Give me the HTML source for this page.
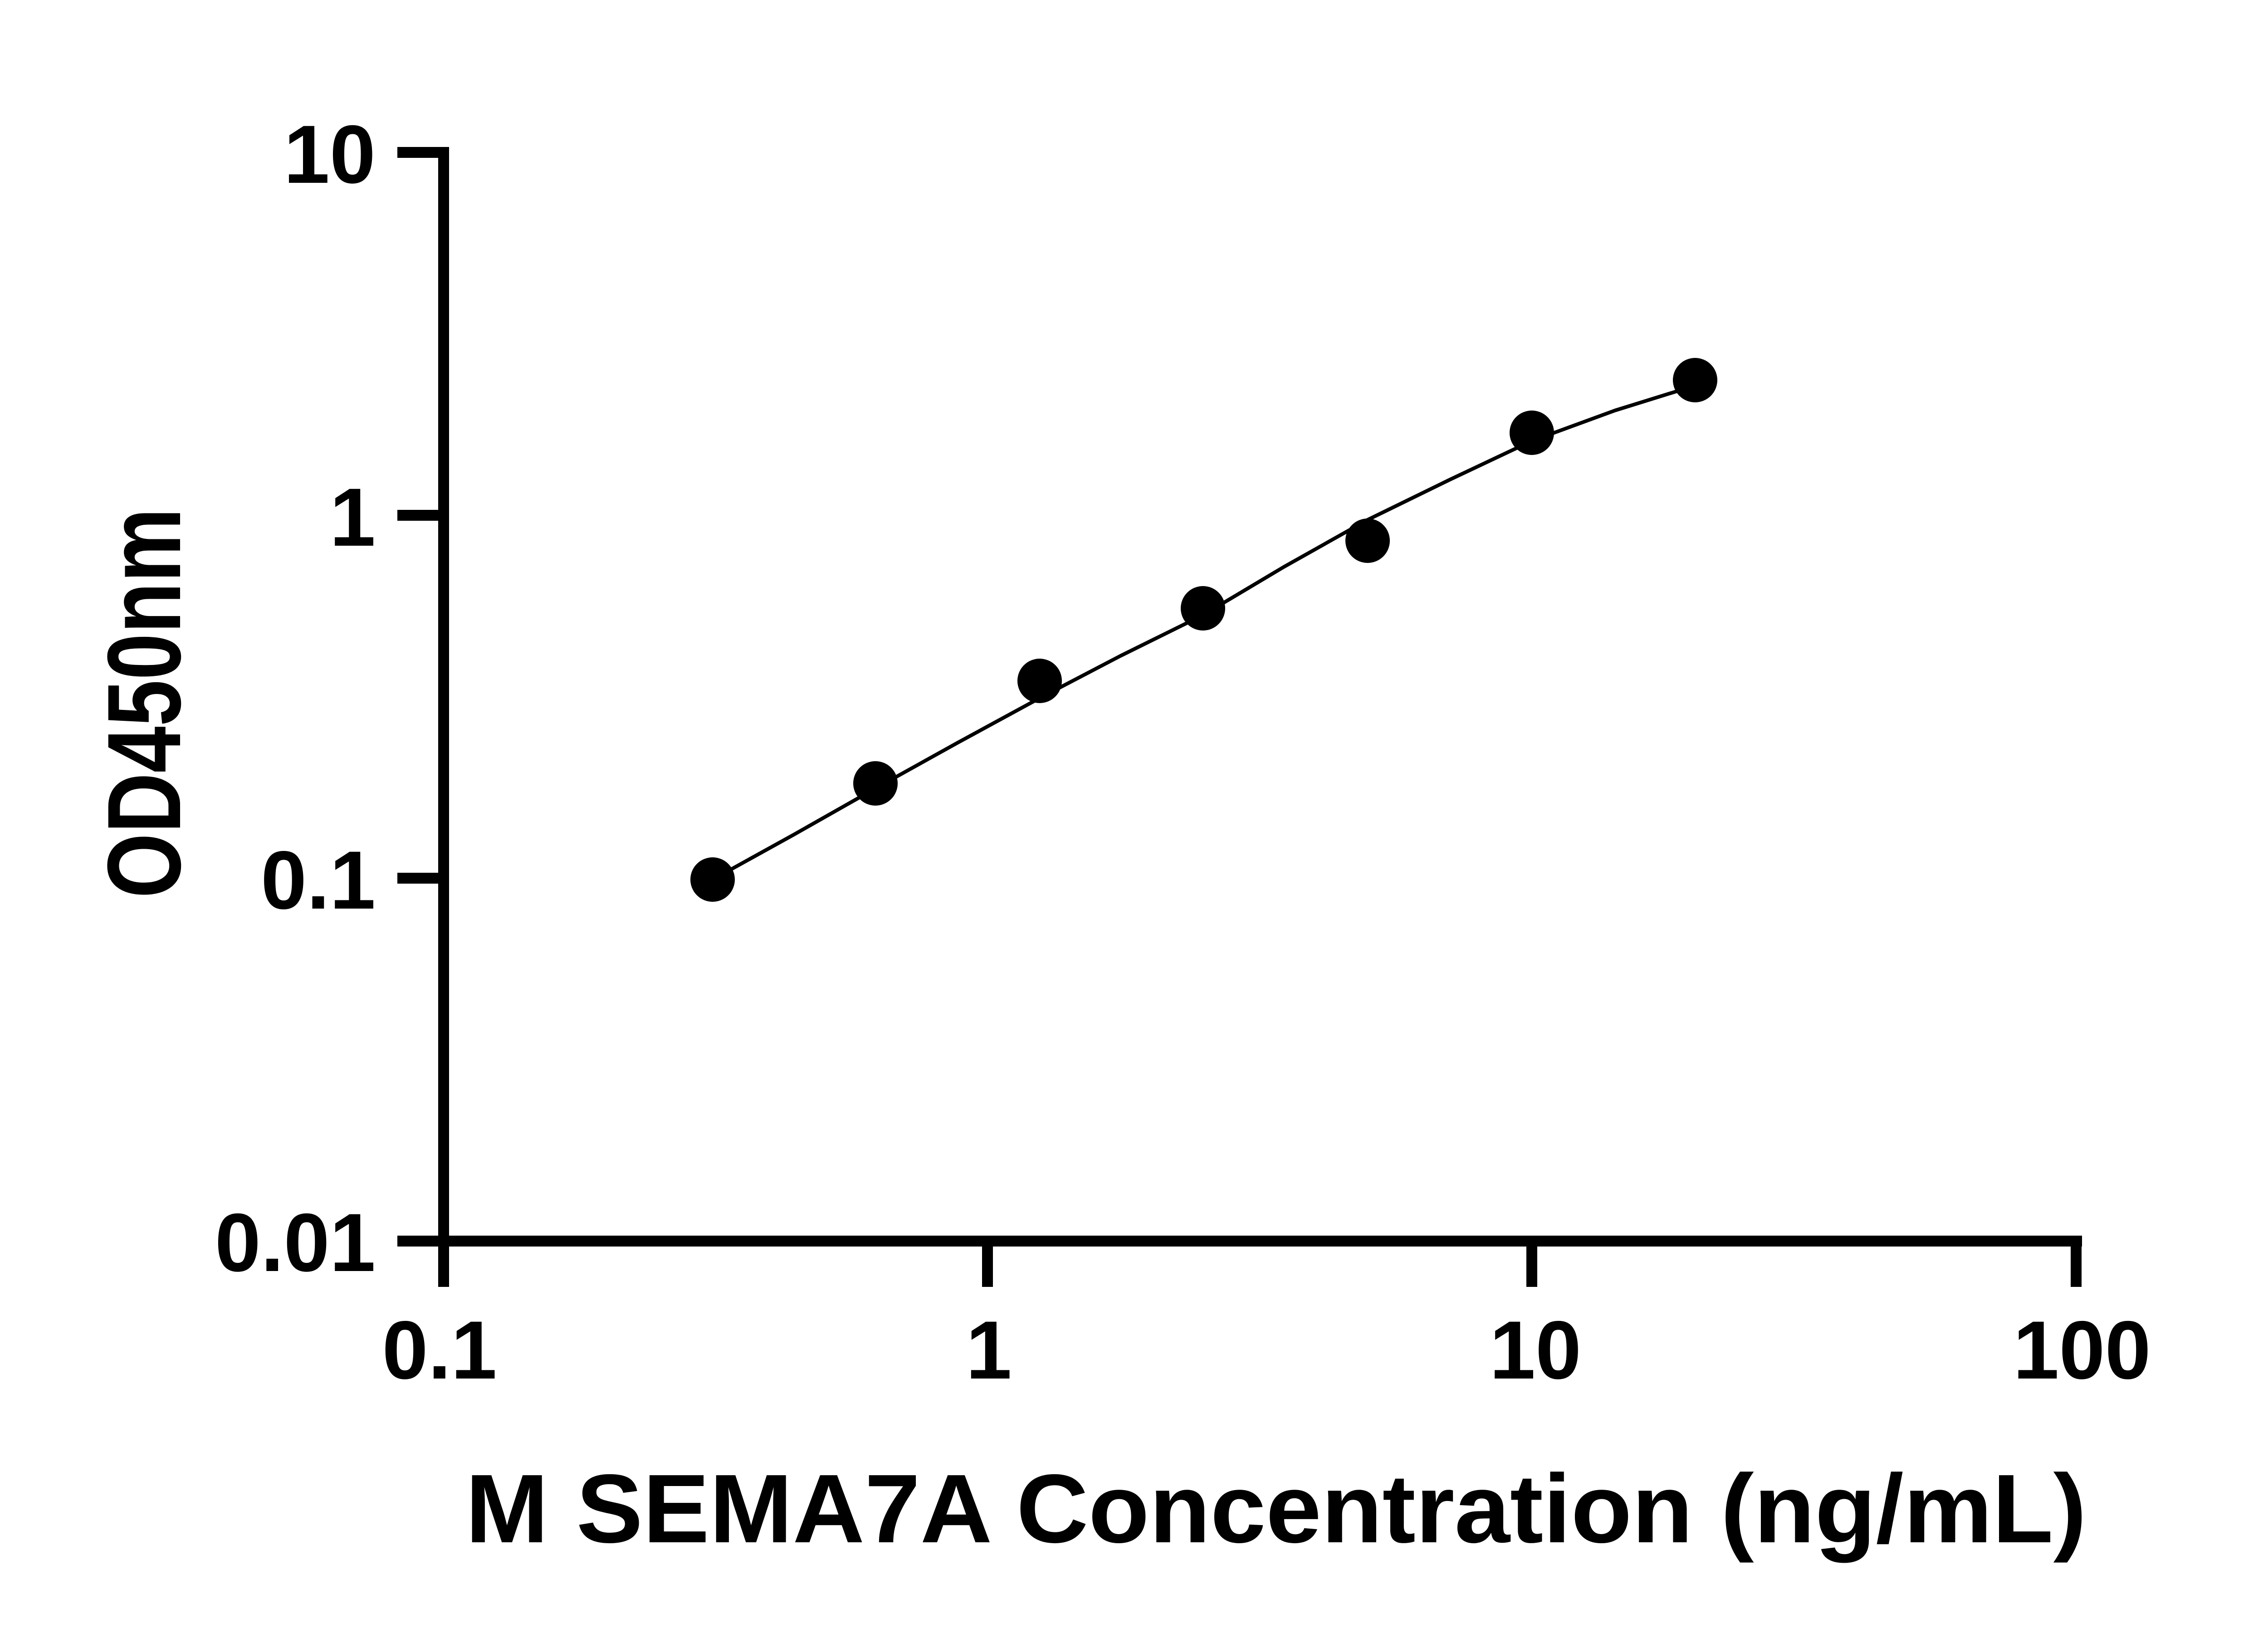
<!DOCTYPE html>
<html><head><meta charset="utf-8"><style>html,body{margin:0;padding:0;background:#fff}svg{display:block}</style></head>
<body>
<svg width="5130" height="3600" viewBox="0 0 5130 3600" xmlns="http://www.w3.org/2000/svg">
<rect width="5130" height="3600" fill="#fff"/>
<g stroke="#000" fill="none">
<line x1="978" y1="324" x2="978" y2="2837" stroke-width="24"/>
<line x1="876" y1="2736" x2="4590" y2="2736" stroke-width="24"/>
<g stroke-width="24">
<line x1="876" y1="336" x2="978" y2="336"/>
<line x1="876" y1="1136" x2="978" y2="1136"/>
<line x1="876" y1="1936" x2="978" y2="1936"/>
<line x1="2177" y1="2736" x2="2177" y2="2837"/>
<line x1="3377" y1="2736" x2="3377" y2="2837"/>
<line x1="4577" y1="2736" x2="4577" y2="2837"/>
</g>
<polyline stroke-width="8" stroke-linejoin="round" points="1571,1939 1750,1840 1930,1738 2110,1638 2292,1539 2470,1446 2652,1356 2830,1250 3015,1146 3195,1058 3377,972 3560,905 3737,850"/>
</g>
<g fill="#000">
<circle cx="1571" cy="1939" r="49"/>
<circle cx="1930" cy="1727" r="49"/>
<circle cx="2292" cy="1501" r="49"/>
<circle cx="2652" cy="1341" r="49"/>
<circle cx="3015" cy="1192" r="49"/>
<circle cx="3377" cy="954" r="49"/>
<circle cx="3737" cy="838" r="49"/>
</g>
<g font-family="Liberation Sans, sans-serif" font-weight="bold" fill="#000" font-size="182">
<text x="828" y="403" text-anchor="end">10</text>
<text x="828" y="1203" text-anchor="end">1</text>
<text x="828" y="2003" text-anchor="end">0.1</text>
<text x="828" y="2802" text-anchor="end">0.01</text>
<text x="969" y="3039" text-anchor="middle">0.1</text>
<text x="2180" y="3039" text-anchor="middle">1</text>
<text x="3385" y="3039" text-anchor="middle">10</text>
<text x="4590" y="3039" text-anchor="middle">100</text>
<text x="1026" y="3400" font-size="215" textLength="3574" lengthAdjust="spacingAndGlyphs">M SEMA7A Concentration (ng/mL)</text>
<text transform="translate(397,1550) rotate(-90)" text-anchor="middle" font-size="230" textLength="860" lengthAdjust="spacingAndGlyphs">OD450nm</text>
</g>
</svg>
</body></html>
